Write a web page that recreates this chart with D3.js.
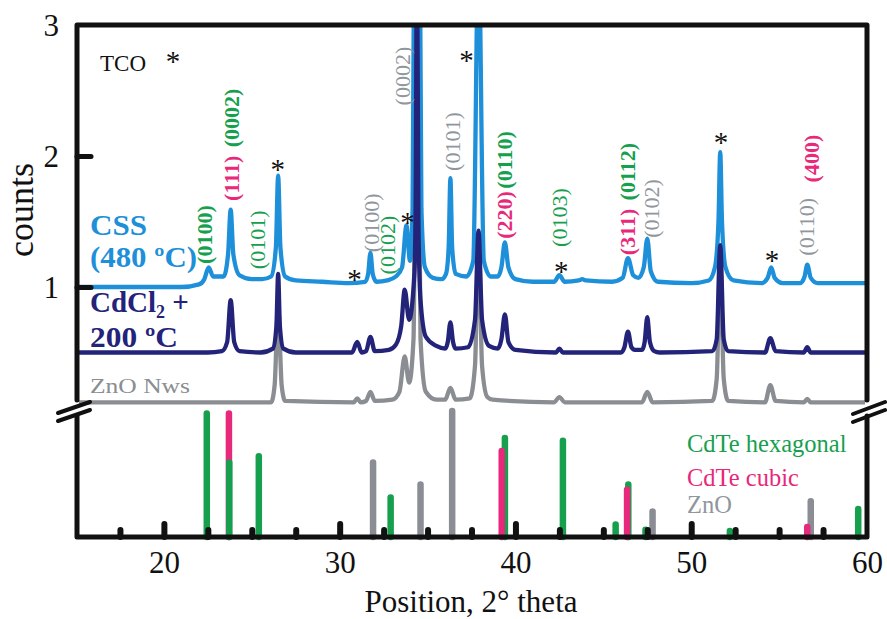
<!DOCTYPE html>
<html><head><meta charset="utf-8">
<script src="https://cdn.jsdelivr.net/npm/d3@7"></script>
<style>body{margin:0;background:#fff}text{font-family:"Liberation Serif","Times New Roman",serif}</style>
</head><body>
<svg id="chart" width="887" height="619"></svg>
<script>
// ---------- DATA ----------
// XRD pattern "CSS (480 ºC)" : [2theta, counts]
const cssPattern = [
 [15.1,1.00],[18,1.00],[21,1.00],[22.0,1.02],[22.3,1.06],[22.55,1.15],[22.8,1.08],
 [23.4,1.08],[23.65,1.25],[23.8,1.59],[23.95,1.25],[24.3,1.09],[25.0,1.06],[25.6,1.06],
 [26.1,1.08],[26.37,1.3],[26.5,1.85],[26.63,1.3],[26.9,1.08],[27.5,1.05],[29,1.04],[30.5,1.03],
 [31.45,1.04],[31.62,1.1],[31.75,1.26],[31.88,1.1],[32.1,1.04],[32.7,1.05],[33.2,1.08],
 [33.55,1.15],[33.8,1.47],[34.0,1.2],[34.15,1.6],[34.22,3.2],[34.4,3.8],[34.58,3.2],[34.65,1.6],
 [34.85,1.15],[35.3,1.07],[35.8,1.06],
 [36.05,1.1],[36.2,1.3],[36.3,1.83],[36.4,1.3],[36.6,1.1],[37.2,1.08],[37.6,1.2],[37.9,3.6],[38.2,1.2],
 [38.6,1.08],[39.0,1.08],[39.2,1.15],[39.4,1.34],[39.6,1.15],[40.0,1.06],[41,1.04],[42.2,1.04],
 [42.5,1.09],[42.8,1.04],[43.6,1.05],[43.8,1.06],[44.0,1.05],[45.5,1.04],[46.1,1.07],[46.4,1.22],
 [46.7,1.09],[47.0,1.07],[47.3,1.15],[47.5,1.37],[47.7,1.12],[48.1,1.04],[50,1.03],[51.0,1.05],
 [51.35,1.15],[51.55,1.5],[51.65,2.03],[51.75,1.5],[51.95,1.15],[52.4,1.05],[54.0,1.03],
 [54.35,1.07],[54.55,1.15],[54.75,1.07],[55.2,1.03],[56.2,1.03],[56.45,1.08],[56.6,1.17],
 [56.8,1.07],[57.2,1.03],[59.95,1.03]
];
// XRD pattern "CdCl2 + 200 ºC"
const cdcl2Pattern = [
 [15.1,0.5],[22.5,0.5],[23.3,0.51],[23.6,0.58],[23.8,0.9],[24.0,0.58],[24.3,0.51],[25.5,0.5],
 [26.2,0.53],[26.4,0.7],[26.5,1.1],[26.6,0.7],[26.8,0.53],[27.5,0.5],[30.7,0.5],[31.0,0.58],
 [31.25,0.5],[31.5,0.51],[31.75,0.62],[32.0,0.51],[32.8,0.52],[33.2,0.56],[33.5,0.7],[33.7,0.98],
 [33.95,0.75],[34.25,1.1],[34.32,1.6],[34.4,3.6],[34.48,1.5],[34.6,0.9],[34.9,0.62],[35.5,0.55],[36.0,0.53],[36.15,0.58],
 [36.3,0.73],[36.45,0.58],[36.6,0.53],[37.3,0.54],[37.7,0.75],[37.9,1.43],[38.1,0.75],[38.5,0.55],
 [39.0,0.53],[39.2,0.6],[39.4,0.79],[39.6,0.58],[40,0.52],[42.3,0.5],[42.5,0.53],[42.7,0.5],
 [46.0,0.5],[46.2,0.54],[46.4,0.66],[46.6,0.54],[46.8,0.52],[47.2,0.52],[47.35,0.58],[47.5,0.77],
 [47.65,0.58],[47.9,0.51],[48.2,0.5],[51.2,0.51],[51.45,0.6],[51.65,1.32],[51.85,0.6],[52.1,0.51],
 [54.2,0.5],[54.5,0.61],[54.8,0.51],[56.4,0.5],[56.6,0.54],[56.8,0.5],[59.95,0.5]
];
// XRD pattern "ZnO Nws"
const znoPattern = [
 [15.1,0.12],[26.1,0.12],[26.3,0.25],[26.5,0.85],[26.7,0.25],[26.9,0.13],[30.8,0.12],[31.0,0.15],
 [31.2,0.12],[31.5,0.13],[31.75,0.2],[32.0,0.13],[33.0,0.14],[33.4,0.2],[33.7,0.47],[33.95,0.27],
 [34.2,0.6],[34.4,3.6],[34.6,0.6],[34.9,0.2],[35.5,0.14],[36.0,0.14],[36.3,0.23],[36.6,0.14],
 [37.4,0.15],[37.7,0.4],[37.9,1.4],[38.1,0.4],[38.4,0.16],[38.7,0.14],[42.2,0.12],[42.5,0.16],
 [42.8,0.12],[47.2,0.12],[47.5,0.2],[47.8,0.12],[51.2,0.13],[51.45,0.3],[51.65,1.2],[51.85,0.3],
 [52.1,0.13],[54.2,0.12],[54.5,0.25],[54.8,0.13],[56.4,0.12],[56.6,0.145],[56.8,0.12],[59.95,0.12]
];
// Reference stick patterns: positions (2theta) and relative intensities (%)
const hexPos = [22.44,23.72,25.4,32.9,39.4,42.7,45.7,46.42,47.4,52.2,59.5];
const hexInt = [98,60,65,33,79,77,12,43,8,7,24];
const cubicPos = [23.7,39.22,46.35,56.6];
const cubicInt = [98,69,39,10];
const znoRefPos = [31.9,34.6,36.4,47.8,56.8];
const znoRefInt = [60,43,100,22,30];
// axis ticks
const xTickLabels = [20,30,40,50,60];
const xMinorTicks = [17.5,20,22.5,25,27.5,30,32.5,35,37.5,40,42.5,45,47.5,50,52.5,55,57.5];
const yTickLabels = [1,2,3];
// peak annotations: text, 2theta, counts, kind
const annText = ["(0100)","(111)","(0002)","(0101)","(0100)","(0102)","(0002)","(0101)","(0110)","(220)","(0103)","(311)","(0112)","(0102)","(0110)","(400)"];
const annTheta = [22.33,23.86,23.86,25.34,31.82,32.73,33.58,36.42,39.38,39.38,42.5,46.36,46.36,47.78,56.55,56.85];
const annCounts = [1.40,1.83,2.29,1.36,1.49,1.32,2.61,2.11,1.97,1.55,1.53,1.42,1.88,1.60,1.46,1.98];
const annKind = ["hexB","cubB","hexB","hex","zno","hex","zno","zno","hexB","cubB","hex","cubB","hexB","zno","zno","cubB"];
// TCO star markers: 2theta, counts
const starTheta = [26.48,30.85,33.86,37.22,42.61,51.7,54.6];
const starCounts = [1.93,1.09,1.53,2.76,1.15,2.14,1.24];

// ---------- STYLE ----------
const C = {css:"#1e8fd9", cdcl:"#23237a", zno:"#8a8d91",
  hex:"#16a04e", cub:"#e8287a", znoRef:"#8a8d93", znoLab:"#8f969c", axis:"#111"};
const svg = d3.select("#chart");
const x = d3.scaleLinear().domain([15,60]).range([76,867]);
const y = d3.scaleLinear().domain([0,3]).range([418,25]);
const yStick = d3.scaleLinear().domain([0,100]).range([537,408]);

svg.append("clipPath").attr("id","clip").append("rect")
  .attr("x",79).attr("y",27).attr("width",786).attr("height",382);

// curves
const line = d3.line().x(d=>x(d[0])).y(d=>y(d[1])).curve(d3.curveMonotoneX);
const gCurves = svg.append("g").attr("clip-path","url(#clip)");
[[znoPattern,C.zno],[cssPattern,C.css],[cdcl2Pattern,C.cdcl]].forEach(([d,c])=>{
  gCurves.append("path").datum(d).attr("d",line).attr("fill","none")
    .attr("stroke",c).attr("stroke-width",4.3).attr("stroke-linejoin","round");
});

// sticks
const sticks = [];
hexPos.forEach((p,i)=>sticks.push({p,v:hexInt[i],c:C.hex}));
cubicPos.forEach((p,i)=>sticks.push({p,v:cubicInt[i],c:C.cub}));
znoRefPos.forEach((p,i)=>sticks.push({p,v:znoRefInt[i],c:C.znoRef}));
sticks.sort((a,b)=>b.v-a.v);
svg.append("g").selectAll("line").data(sticks).join("line")
  .attr("x1",d=>x(d.p)).attr("x2",d=>x(d.p))
  .attr("y1",yStick(0)).attr("y2",d=>yStick(d.v)+3)
  .attr("stroke",d=>d.c).attr("stroke-width",6.5).attr("stroke-linecap","round");

// frame
const fr = svg.append("g").attr("stroke",C.axis).attr("stroke-width",5).attr("fill","none")
  .attr("stroke-linecap","round").attr("stroke-linejoin","round");
fr.append("path").attr("d",`M${x(15)+1},400 V25 H867 V400`);
fr.append("path").attr("d",`M${x(15)+1},416 V537 H867 V416`);
// breaks
const br = svg.append("g").attr("stroke",C.axis).attr("stroke-width",4).attr("stroke-linecap","round");
[[58,413,90,402],[58,421,90,410],[853,414,885,402],[853,422,885,410]].forEach(a=>
  br.append("line").attr("x1",a[0]).attr("y1",a[1]).attr("x2",a[2]).attr("y2",a[3]));

// x axis ticks (inner) via d3 axis
const minor = svg.append("g").attr("transform","translate(0,537)")
  .call(d3.axisBottom(x).tickValues(xMinorTicks).tickSize(0).tickFormat(""));
minor.select(".domain").remove();
minor.selectAll(".tick line").attr("y2",d=>d%10===0?-13:-7)
  .attr("stroke",C.axis).attr("stroke-width",6).attr("stroke-linecap","round");
const xl = svg.append("g").attr("transform","translate(0,537)")
  .call(d3.axisBottom(x).tickValues(xTickLabels).tickSize(0).tickPadding(14));
xl.select(".domain").remove();
xl.selectAll("text").attr("font-size",31).attr("fill","#111")
  .style("font-family",'"Liberation Serif",serif');

// y axis
const yl = svg.append("g").attr("transform","translate(77,0)")
  .call(d3.axisLeft(y).tickValues(yTickLabels).tickSize(0).tickPadding(18).tickFormat(d3.format("d")));
yl.select(".domain").remove();
yl.selectAll("text").attr("font-size",31).attr("fill","#111").attr("dy","0.35em")
  .style("font-family",'"Liberation Serif",serif');
yl.selectAll(".tick").filter(d=>d<3).append("line").attr("x1",0).attr("x2",14)
  .attr("stroke",C.axis).attr("stroke-width",5).attr("stroke-linecap","round");

// axis titles
svg.append("text").attr("x",471).attr("y",612).attr("text-anchor","middle")
  .attr("font-size",31).attr("fill","#111").text("Position, 2° theta");
svg.append("text").attr("transform","translate(33,210) rotate(-90)").attr("text-anchor","middle")
  .attr("font-size",36).attr("fill","#111").text("counts");

// annotations
const kindStyle = {hexB:[C.hex,"bold"],hex:[C.hex,"normal"],cubB:[C.cub,"bold"],zno:[C.znoLab,"normal"]};
annText.forEach((t,i)=>{
  const [col,w] = kindStyle[annKind[i]];
  svg.append("text").attr("transform",`translate(${x(annTheta[i])},${y(annCounts[i])}) rotate(-90)`)
    .attr("text-anchor","middle").attr("dy","0.33em").attr("font-size",22)
    .attr("font-weight",w).attr("fill",col).text(t);
});
starTheta.forEach((t,i)=>{
  svg.append("text").attr("x",x(t)).attr("y",y(starCounts[i])+14).attr("text-anchor","middle")
    .attr("font-size",29).attr("fill","#111").text("*");
});
svg.append("text").attr("x",100).attr("y",71).attr("font-size",23).attr("fill","#111").text("TCO");
svg.append("text").attr("x",173).attr("y",71).attr("text-anchor","middle").attr("font-size",29).attr("fill","#111").text("*");

// series labels
const lab = (txt,xx,yy,col,fs,w,len)=>{
  const t = svg.append("text").attr("x",xx).attr("y",yy).attr("fill",col)
    .attr("font-size",fs).attr("font-weight",w);
  if(len) t.attr("textLength",len).attr("lengthAdjust","spacingAndGlyphs");
  return t;
};
lab("",90,235,C.css,29,"bold",57).text("CSS");
lab("",90,267,C.css,29,"bold",107).text("(480 ºC)");
const cd = lab("",90,312,C.cdcl,29,"bold");
cd.append("tspan").text("CdCl");
cd.append("tspan").attr("font-size",18).attr("dy",6).text("2");
cd.append("tspan").attr("dy",-6).text(" +");
lab("",90,347,C.cdcl,29,"bold",88).text("200 ºC");
lab("",90,393,C.zno,22,"normal",100).text("ZnO Nws");

// legend
lab("",687,452,C.hex,24.5,"normal").text("CdTe hexagonal");
lab("",687,486,C.cub,24.5,"normal").text("CdTe cubic");
lab("",687,513,C.znoLab,24.5,"normal").text("ZnO");
</script>
</body></html>
